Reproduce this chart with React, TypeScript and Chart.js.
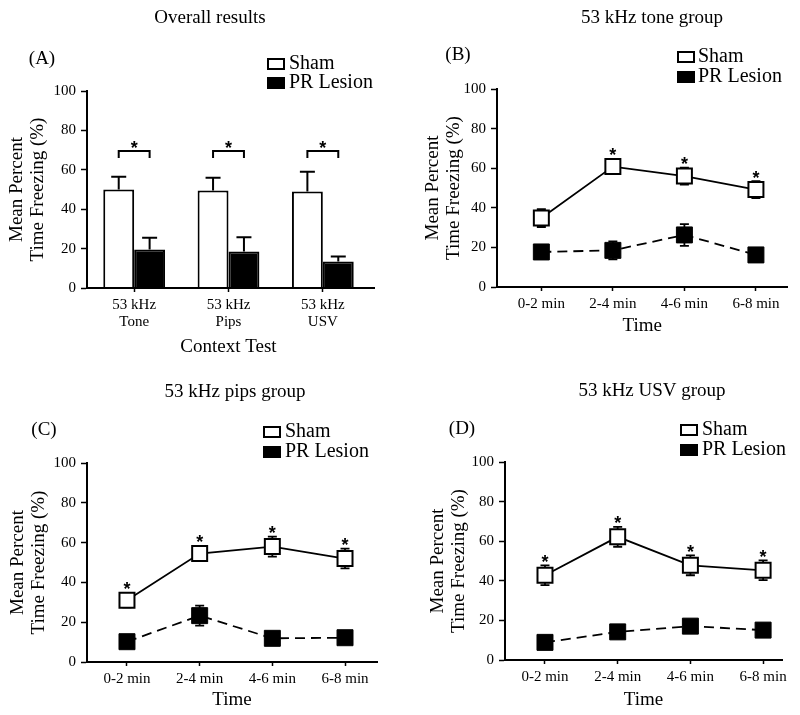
import React, { useEffect, useRef } from "react";
import { Chart, registerables } from "chart.js";
Chart.register(...registerables);

const SERIF = "'Liberation Serif', 'Times New Roman', Times, serif";
const SANS = "'Liberation Sans', Arial, sans-serif";

// ---------- Panel A: overall results ----------
const contextTests = [["53 kHz", "Tone"], ["53 kHz", "Pips"], ["53 kHz", "USV"]];
const overallSham = [50, 49.5, 49];
const overallShamSem = [6.5, 6.5, 10];
const overallLesion = [19.5, 18.5, 13.5];
const overallLesionSem = [6, 7.2, 2.5];
const overallBracket = [69.5, 69.5, 69.5];
const overallSig = [true, true, true];

// ---------- Time bins ----------
const timeBins = ["0-2 min", "2-4 min", "4-6 min", "6-8 min"];

// ---------- Panel B: 53 kHz tone group ----------
const toneSham = [34.8, 60.8, 56, 49.2];
const toneShamSem = [4.5, 3.5, 4.3, 4.3];
const toneLesion = [17.7, 18.5, 26.3, 16.2];
const toneLesionSem = [1, 4.5, 5.5, 1];
const toneSig = [false, true, true, true];

// ---------- Panel C: 53 kHz pips group ----------
const pipsSham = [31, 54.5, 58, 52];
const pipsShamSem = [3.5, 3.5, 5, 5];
const pipsLesion = [10.2, 23.3, 11.9, 12.2];
const pipsLesionSem = [1, 5, 1, 1];
const pipsSig = [true, true, true, true];

// ---------- Panel D: 53 kHz USV group ----------
const usvSham = [42.8, 62.2, 47.8, 45.3];
const usvShamSem = [5, 5, 5, 5];
const usvLesion = [8.9, 14.2, 17.1, 15.1];
const usvLesionSem = [1, 3, 1, 1];
const usvSig = [true, true, true, true];

const yTicks = [0, 20, 40, 60, 80, 100];
const yTitle = ["Mean Percent", "Time Freezing (%)"];

type Deco = {
  title: string;
  titleX: number;
  titleY: number;
  label: string;
  labelX: number;
  labelY: number;
  legRectX: number;
  legTextX: number;
  legY1: number;
  legY2: number;
};

function drawStar(ctx: CanvasRenderingContext2D, x: number, yc: number) {
  ctx.save();
  ctx.fillStyle = "#000";
  ctx.font = `bold 18px ${SANS}`;
  ctx.textAlign = "center";
  ctx.textBaseline = "alphabetic";
  ctx.fillText("*", x, yc + 10.5);
  ctx.restore();
}

function drawTexts(ctx: CanvasRenderingContext2D, d: Deco) {
  ctx.save();
  ctx.fillStyle = "#000";
  ctx.textBaseline = "middle";
  ctx.textAlign = "center";
  ctx.font = `19px ${SERIF}`;
  ctx.fillText(d.title, d.titleX, d.titleY);
  ctx.fillText(d.label, d.labelX, d.labelY);
  // legend
  ctx.font = `20px ${SERIF}`;
  ctx.textAlign = "left";
  ctx.fillText("Sham", d.legTextX, d.legY1);
  ctx.fillText("PR Lesion", d.legTextX, d.legY2);
  ctx.lineWidth = 2;
  ctx.strokeStyle = "#000";
  ctx.strokeRect(d.legRectX + 1, d.legY1 - 5, 16, 10);
  ctx.fillRect(d.legRectX, d.legY2 - 6, 18, 12);
  ctx.restore();
}

function yScaleOpts(width: number, titlePad: number) {
  return {
    min: 0,
    max: 100,
    afterFit: (s: any) => {
      s.width = width;
    },
    afterBuildTicks: (s: any) => {
      s.ticks = yTicks.map((v) => ({ value: v }));
    },
    ticks: { font: { family: SERIF, size: 15 }, color: "#000", padding: 5 },
    grid: { drawOnChartArea: false, drawTicks: true, tickLength: 6, tickWidth: 1.5, tickColor: "#000" },
    border: { display: true, color: "#000", width: 2 },
    title: {
      display: true,
      text: yTitle,
      color: "#000",
      font: { family: SERIF, size: 19, lineHeight: 21 / 19 },
      padding: { top: titlePad, bottom: 0 },
    },
  };
}

function Panel({ config, left, top, width, height }: any) {
  const ref = useRef<HTMLCanvasElement | null>(null);
  useEffect(() => {
    if (!ref.current) return;
    const chart = new Chart(ref.current, config());
    return () => chart.destroy();
  }, []);
  return (
    <canvas
      ref={ref}
      width={width}
      height={height}
      style={{ position: "absolute", left, top, width, height }}
    />
  );
}

function barConfig() {
  const deco: Deco = {
    title: "Overall results",
    titleX: 210,
    titleY: 18,
    label: "(A)",
    labelX: 42,
    labelY: 59,
    legRectX: 267,
    legTextX: 289,
    legY1: 64,
    legY2: 83,
  };
  const plugin = {
    id: "decoA",
    afterDatasetsDraw(chart: any) {
      const ctx = chart.ctx as CanvasRenderingContext2D;
      const y = chart.scales.y;
      const area = chart.chartArea;
      const m0 = chart.getDatasetMeta(0).data;
      const m1 = chart.getDatasetMeta(1).data;
      ctx.save();
      ctx.strokeStyle = "#000";
      ctx.lineWidth = 2;
      // x axis line
      ctx.beginPath();
      ctx.moveTo(area.left - 1, area.bottom);
      ctx.lineTo(area.right + 5, area.bottom);
      ctx.stroke();
      const errs = [
        [m0, overallSham, overallShamSem],
        [m1, overallLesion, overallLesionSem],
      ] as any[];
      errs.forEach(([meta, vals, sems]) => {
        vals.forEach((v: number, i: number) => {
          const x = meta[i].x;
          const y0 = y.getPixelForValue(v);
          const y1 = y.getPixelForValue(v + sems[i]);
          ctx.beginPath();
          ctx.moveTo(x, y0);
          ctx.lineTo(x, y1);
          ctx.moveTo(x - 7.5, y1);
          ctx.lineTo(x + 7.5, y1);
          ctx.stroke();
        });
      });
      overallSig.forEach((s, i) => {
        if (!s) return;
        const xa = m0[i].x;
        const xb = m1[i].x;
        const yb = y.getPixelForValue(overallBracket[i]);
        ctx.beginPath();
        ctx.moveTo(xa, yb + 7);
        ctx.lineTo(xa, yb);
        ctx.lineTo(xb, yb);
        ctx.lineTo(xb, yb + 7);
        ctx.stroke();
        drawStar(ctx, (xa + xb) / 2, yb - 8);
      });
      ctx.restore();
    },
    afterDraw(chart: any) {
      drawTexts(chart.ctx, deco);
    },
  };
  return {
    type: "bar",
    data: {
      labels: contextTests,
      datasets: [
        { label: "Sham", data: overallSham, backgroundColor: "#fff", borderColor: "#000", borderWidth: 2 },
        { label: "PR Lesion", data: overallLesion, backgroundColor: "#000", borderColor: "#000", borderWidth: 2 },
      ],
    },
    options: {
      responsive: false,
      animation: false,
      devicePixelRatio: 1,
      events: [],
      datasets: { bar: { barPercentage: 1, categoryPercentage: 0.655 } },
      layout: { padding: { left: 0, top: 91, right: 30, bottom: 1 } },
      plugins: { legend: { display: false }, title: { display: false }, tooltip: { enabled: false } },
      scales: {
        x: {
          afterFit: (s: any) => {
            s.height = 71;
          },
          ticks: { font: { family: SERIF, size: 15, lineHeight: 1.15 }, color: "#000", padding: 4, autoSkip: false, maxRotation: 0 },
          grid: { offset: false, drawOnChartArea: false, drawTicks: true, tickLength: 4, tickWidth: 1.5, tickColor: "#000" },
          border: { display: false },
          title: {
            display: true,
            text: "Context Test",
            color: "#000",
            font: { family: SERIF, size: 19, lineHeight: 1.2 },
            padding: { top: 0, bottom: 0.6 },
          },
        },
        y: yScaleOpts(87, 6.5),
      },
    },
    plugins: [plugin],
  };
}

type LineSpec = {
  deco: Deco;
  sham: number[];
  shamSem: number[];
  lesion: number[];
  lesionSem: number[];
  sig: boolean[];
  padding: { left: number; top: number; right: number; bottom: number };
  yWidth: number;
  yTitlePad: number;
  xHeight: number;
  xTitlePad: number;
  xMin: number;
  xMax: number;
};

function lineConfig(p: LineSpec) {
  return () => {
    const plugin = {
      id: "decoLine",
      beforeDatasetsDraw(chart: any) {
        const ctx = chart.ctx as CanvasRenderingContext2D;
        const x = chart.scales.x;
        const y = chart.scales.y;
        ctx.save();
        ctx.strokeStyle = "#000";
        ctx.lineWidth = 1.8;
        const sets = [
          [p.sham, p.shamSem],
          [p.lesion, p.lesionSem],
        ];
        sets.forEach(([vals, sems]) => {
          vals.forEach((v, i) => {
            const px = x.getPixelForValue(i);
            const yt = y.getPixelForValue(v + sems[i]);
            const yb = y.getPixelForValue(v - sems[i]);
            ctx.beginPath();
            ctx.moveTo(px, yt);
            ctx.lineTo(px, yb);
            ctx.moveTo(px - 4.5, yt);
            ctx.lineTo(px + 4.5, yt);
            ctx.moveTo(px - 4.5, yb);
            ctx.lineTo(px + 4.5, yb);
            ctx.stroke();
          });
        });
        ctx.restore();
      },
      afterDraw(chart: any) {
        const ctx = chart.ctx as CanvasRenderingContext2D;
        const x = chart.scales.x;
        const y = chart.scales.y;
        p.sig.forEach((s, i) => {
          if (!s) return;
          const px = x.getPixelForValue(i);
          const top = Math.min(y.getPixelForValue(p.sham[i] + p.shamSem[i]), y.getPixelForValue(p.sham[i]) - 8);
          drawStar(ctx, px, top - 8);
        });
        drawTexts(ctx, p.deco);
      },
    };
    const pts = (arr: number[]) => arr.map((v, i) => ({ x: i, y: v }));
    return {
      type: "line",
      data: {
        datasets: [
          {
            label: "PR Lesion",
            data: pts(p.lesion),
            borderColor: "#000",
            borderWidth: 1.8,
            borderDash: [10, 6],
            pointStyle: "rect",
            pointRadius: 11.3,
            pointHoverRadius: 11.3,
            pointBackgroundColor: "#000",
            pointBorderColor: "#000",
            pointBorderWidth: 1,
            fill: false,
            tension: 0,
          },
          {
            label: "Sham",
            data: pts(p.sham),
            borderColor: "#000",
            borderWidth: 1.8,
            pointStyle: "rect",
            pointRadius: 10.6,
            pointHoverRadius: 10.6,
            pointBackgroundColor: "#fff",
            pointBorderColor: "#000",
            pointBorderWidth: 2,
            fill: false,
            tension: 0,
          },
        ],
      },
      options: {
        responsive: false,
        animation: false,
        devicePixelRatio: 1,
        events: [],
        layout: { padding: p.padding },
        plugins: { legend: { display: false }, title: { display: false }, tooltip: { enabled: false } },
        scales: {
          x: {
            type: "linear",
            min: p.xMin,
            max: p.xMax,
            afterFit: (s: any) => {
              s.height = p.xHeight;
            },
            afterBuildTicks: (s: any) => {
              s.ticks = timeBins.map((_, i) => ({ value: i }));
            },
            ticks: {
              callback: (v: any) => timeBins[Math.round(Number(v))],
              font: { family: SERIF, size: 15 },
              color: "#000",
              padding: 4,
              autoSkip: false,
              maxRotation: 0,
            },
            grid: { drawOnChartArea: false, drawTicks: true, tickLength: 4, tickWidth: 1.5, tickColor: "#000" },
            border: { display: true, color: "#000", width: 2 },
            title: {
              display: true,
              text: "Time",
              color: "#000",
              font: { family: SERIF, size: 19, lineHeight: 1.2 },
              padding: { top: 0, bottom: p.xTitlePad },
            },
          },
          y: yScaleOpts(p.yWidth, p.yTitlePad),
        },
      },
      plugins: [plugin],
    };
  };
}

const configB = lineConfig({
  deco: {
    title: "53 kHz tone group",
    titleX: 252,
    titleY: 18,
    label: "(B)",
    labelX: 58,
    labelY: 55,
    legRectX: 277,
    legTextX: 298,
    legY1: 57,
    legY2: 77,
  },
  sham: toneSham,
  shamSem: toneShamSem,
  lesion: toneLesion,
  lesionSem: toneLesionSem,
  sig: toneSig,
  padding: { left: 0, top: 89, right: 8, bottom: 0 },
  yWidth: 97,
  yTitlePad: 22.5,
  xHeight: 73,
  xTitlePad: 22.6,
  xMin: -0.62,
  xMax: 3.44,
});

const configC = lineConfig({
  deco: {
    title: "53 kHz pips group",
    titleX: 235,
    titleY: 32,
    label: "(C)",
    labelX: 44,
    labelY: 70,
    legRectX: 263,
    legTextX: 285,
    legY1: 72,
    legY2: 92,
  },
  sham: pipsSham,
  shamSem: pipsShamSem,
  lesion: pipsLesion,
  lesionSem: pipsLesionSem,
  sig: pipsSig,
  padding: { left: 0, top: 103, right: 23, bottom: 0 },
  yWidth: 87,
  yTitlePad: 7.5,
  xHeight: 53,
  xTitlePad: 3.6,
  xMin: -0.55,
  xMax: 3.44,
});

const configD = lineConfig({
  deco: {
    title: "53 kHz USV group",
    titleX: 252,
    titleY: 31,
    label: "(D)",
    labelX: 62,
    labelY: 69,
    legRectX: 280,
    legTextX: 302,
    legY1: 70,
    legY2: 90,
  },
  sham: usvSham,
  shamSem: usvShamSem,
  lesion: usvLesion,
  lesionSem: usvLesionSem,
  sig: usvSig,
  padding: { left: 0, top: 102, right: 18, bottom: 0 },
  yWidth: 105,
  yTitlePad: 27.5,
  xHeight: 55,
  xTitlePad: 3.6,
  xMin: -0.55,
  xMax: 3.26,
});

export default function App() {
  return (
    <div style={{ position: "absolute", left: 0, top: 0, width: 800, height: 715, background: "#fff" }}>
      <Panel config={barConfig} left={0} top={0} width={400} height={360} />
      <Panel config={configB} left={400} top={0} width={400} height={360} />
      <Panel config={configC} left={0} top={360} width={400} height={355} />
      <Panel config={configD} left={400} top={360} width={400} height={355} />
    </div>
  );
}
